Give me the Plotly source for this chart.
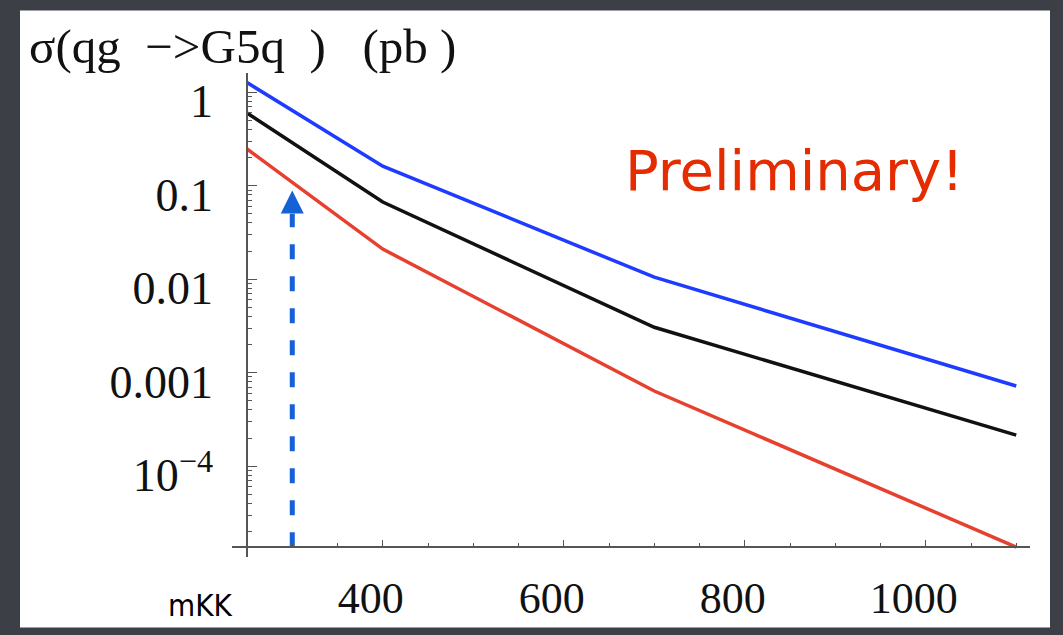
import plotly.graph_objects as go

# ---- data ----
mkk = [250, 400, 700, 1100]
sigma_blue = [1.27, 0.162, 0.0105, 7.2e-4]
sigma_black = [0.60, 0.0669, 0.00306, 2.15e-4]
sigma_red = [0.247, 0.021, 6.36e-4, 1.36e-5]

arrow_x = [300, 300]
arrow_y = [1.36e-5, 0.05]
arrow_tip = 0.089

x_tickvals = [400, 600, 800, 1000]
x_ticktext = ["400", "600", "800", "1000"]
x_minor = [300, 350, 450, 500, 550, 650, 700, 750, 850, 900, 950, 1050, 1100]
y_tickvals = [1, 0.1, 0.01, 0.001, 1e-4]
y_ticktext = ["1", "0.1", "0.01", "0.001", "10<sup>\u22124</sup>"]
y_minor = [m * 10.0 ** d for d in range(-5, 1) for m in range(2, 10)]

# ---- layout geometry (pixels) ----
W, H = 1063, 635
L, R, T, B = 232, 1030, 73, 568


def px_x(p):
    return (p - L) / (R - L)


def px_y(p):
    return (B - p) / (B - T)


fig = go.Figure()
line_w = 3.5
fig.add_trace(go.Scatter(x=mkk, y=sigma_blue, mode="lines",
                         line=dict(color="#1e3cff", width=line_w)))
fig.add_trace(go.Scatter(x=mkk, y=sigma_black, mode="lines",
                         line=dict(color="#111111", width=line_w)))
fig.add_trace(go.Scatter(x=mkk, y=sigma_red, mode="lines",
                         line=dict(color="#e8402f", width=line_w)))
fig.add_trace(go.Scatter(x=arrow_x, y=arrow_y, mode="lines",
                         line=dict(color="#1462d6", width=5, dash="15px,17px")))
fig.add_trace(go.Scatter(x=[arrow_x[1]], y=[arrow_tip], mode="markers",
                         marker=dict(symbol="arrow-up", size=23, color="#1462d6",
                                     line=dict(width=0))))

axis_color = "#555555"
x_tick_font = dict(family="Liberation Serif", size=44, color="#111111")
y_tick_font = dict(family="Liberation Serif", size=46, color="#111111")

fig.update_layout(
    width=W, height=H,
    margin=dict(l=L, r=W - R, t=T, b=H - B, pad=0),
    paper_bgcolor="#3c3f46",
    plot_bgcolor="white",
    showlegend=False,
    xaxis=dict(
        range=[233.4, 1115.2], anchor="free", position=px_y(558),
        showline=True, linecolor=axis_color, linewidth=1.5,
        ticks="inside", ticklen=6, tickwidth=1.2, tickcolor=axis_color,
        tickmode="array", tickvals=x_tickvals, ticktext=x_ticktext,
        tickfont=x_tick_font, ticklabelshift=-12, ticklabelstandoff=12,
        minor=dict(ticks="inside", ticklen=3, tickwidth=1, tickcolor=axis_color,
                   tickmode="array", tickvals=x_minor),
        showgrid=False, zeroline=False,
    ),
    yaxis=dict(
        type="log", range=[-4.972, 0.206], anchor="free", position=px_x(247),
        showline=True, linecolor=axis_color, linewidth=1.5,
        ticks="inside", ticklen=9, tickwidth=1.2, tickcolor=axis_color,
        tickmode="array", tickvals=y_tickvals, ticktext=y_ticktext,
        tickfont=y_tick_font, ticklabelshift=9, ticklabelstandoff=24,
        minor=dict(ticks="inside", ticklen=4, tickwidth=1, tickcolor=axis_color,
                   tickmode="array", tickvals=y_minor),
        showgrid=False, zeroline=False,
    ),
    shapes=[dict(type="rect", xref="paper", yref="paper",
                 x0=px_x(20), x1=px_x(1050), y0=px_y(640), y1=px_y(9),
                 fillcolor="white", line=dict(width=0), layer="below")],
    annotations=[
        dict(text="\u03c3(qg\u00a0\u00a0\u2212>G5q\u00a0\u00a0)\u00a0\u00a0\u00a0(pb\u00a0)",
             xref="paper", yref="paper", x=px_x(27), y=px_y(46),
             xanchor="left", yanchor="middle", showarrow=False,
             font=dict(family="Liberation Serif", size=49, color="#111111")),
        dict(text="mKK", xref="paper", yref="paper", x=px_x(166), y=px_y(617),
             xanchor="left", yanchor="middle", showarrow=False,
             font=dict(family="Liberation Sans Narrow, DejaVu Sans Condensed, Liberation Sans",
                       size=31, color="#000000")),
        dict(text="Preliminary!", xref="paper", yref="paper", x=px_x(794), y=px_y(173),
             xanchor="center", yanchor="middle", showarrow=False,
             font=dict(family="DejaVu Sans", size=56, color="#e52b00")),
    ],
)

fig.write_html("out.html")
